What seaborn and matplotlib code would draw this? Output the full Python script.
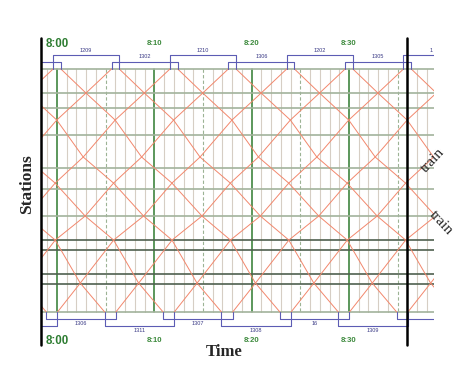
import numpy as np
import pandas as pd
import matplotlib
matplotlib.use("Agg")
import matplotlib.pyplot as plt
import seaborn as sns

# ---------------- data ----------------
# station positions along the line (distance units, 0 = top terminal)
station_pos = [0, 24, 39, 66, 99, 120, 147, 171, 181, 205, 215, 243]
station_dark = [False, False, False, False, False, False, False, True, True, True, True, False]

# running profile: distance points and minutes after departure
profile_dist = [0, 24, 51, 88, 114, 147, 171, 214, 243]
down_run = [0.0, 2.57, 5.57, 8.29, 11.40, 14.49, 17.41, 19.98, 22.50]      # top -> bottom
up_run = [23.55, 20.93, 17.93, 14.65, 11.77, 8.85, 5.78, 2.35, 0.0]       # bottom -> top

# departures (minutes after 8:00)
down_departures = [-23.6, -17.6, -11.6, -5.6, 0.4, 6.4, 12.4, 18.4, 24.4, 30.4, 36.4]
up_departures = [-23.95, -17.95, -11.95, -5.95, 0.05, 6.05, 12.05, 18.05, 24.05, 30.05, 36.05]

# turnaround (vehicle circulation) at the top terminal
top_arr = [-6.4, -0.4, 5.6, 11.6, 17.6, 23.6, 29.6, 35.6]
top_dep_next = [0.4, 6.4, 12.4, 18.4, 24.4, 30.4, 36.4, 42.4]
top_labels = ["", "1209", "1302", "1210", "1306", "1202", "1305", "1"]

# turnaround at the bottom terminal
bot_arr = [-7.1, -1.1, 4.9, 10.9, 16.9, 22.9, 28.9, 34.9]
bot_dep_next = [0.05, 6.05, 12.05, 18.05, 24.05, 30.05, 36.05, 42.05]
bot_labels = ["", "1306", "1311", "1307", "1308", "16", "1309", ""]

time_ticks = [0, 10, 20, 30]
time_labels = ["8:00", "8:10", "8:20", "8:30"]

# ---------------- style ----------------
sns.set_theme(style="white")
plt.rcParams["font.family"] = ["Liberation Sans", "DejaVu Sans"]

RED = "#f2876c"
BLUE = "#5c5cb4"
LIGHT = "#d6cec4"
DASH = "#9cb394"
DKGREEN = "#2f7a2f"
STN = "#a2b39c"
STN_DK = "#4f604f"
TXT_GREEN = "#2e7d32"

PX_MIN = 9.733
t_left = (41 - 57) / PX_MIN
t_right = (434 - 57) / PX_MIN
t_black_r = (407.4 - 57) / PX_MIN

fig = plt.figure(figsize=(4.74, 3.88), dpi=100)
fig.patch.set_facecolor("white")
ax = fig.add_axes([41 / 474, 0, 393 / 474, 1])
ax.set_xlim(t_left, t_right)
ax.set_ylim(319, -69)

# vertical time grid (each minute)
for m in range(-1, 39):
    if m % 10 == 0:
        ax.plot([m, m], [0, 243], color=DKGREEN, lw=1.1, zorder=2)
    elif m % 5 == 0:
        ax.plot([m, m], [0, 243], color=DASH, lw=0.8, ls=(0, (3, 2)), zorder=1)
    else:
        ax.plot([m, m], [0, 243], color=LIGHT, lw=0.8, zorder=1)

# station lines
for s, dk in zip(station_pos, station_dark):
    ax.plot([t_left, t_right], [s, s], color=STN_DK if dk else STN,
            lw=1.2, zorder=2, solid_capstyle="butt")

# train paths
rows = []
for k, dep in enumerate(down_departures):
    for d, r in zip(profile_dist, down_run):
        rows.append({"train": f"D{k}", "time": dep + r, "dist": d})
for k, dep in enumerate(up_departures):
    for d, r in zip(profile_dist, up_run):
        rows.append({"train": f"U{k}", "time": dep + r, "dist": d})
df = pd.DataFrame(rows)
sns.lineplot(data=df, x="time", y="dist", units="train", estimator=None,
             sort=False, color=RED, lw=0.7, ax=ax, legend=False, zorder=3)

# circulation links (blue)
for k, (a, b) in enumerate(zip(top_arr, top_dep_next)):
    lvl = -14 if k % 2 == 1 else -7
    ax.plot([a, a, b, b], [0, lvl, lvl, 0], color=BLUE, lw=0.8, zorder=4)
    if top_labels[k]:
        xm = min((a + b) / 2, t_right - 0.25)
        ax.text(xm, lvl - 2.5, top_labels[k], ha="center", va="bottom",
                fontsize=4, color="#3a3a86")
for k, (a, b) in enumerate(zip(bot_arr, bot_dep_next)):
    lvl = 257 if k % 2 == 0 else 250
    ax.plot([a, a, b, b], [243, lvl, lvl, 243], color=BLUE, lw=0.8, zorder=4)
    if bot_labels[k]:
        ax.text((a + b) / 2, lvl + 2, bot_labels[k], ha="center", va="top",
                fontsize=4, color="#3a3a86")

# black frame verticals
ax.plot([t_left, t_left], [-31, 276], color="black", lw=1.8, clip_on=False, zorder=6)
ax.plot([t_black_r, t_black_r], [-31, 276], color="black", lw=1.8, zorder=6)

# time labels
for t, lab in zip(time_ticks, time_labels):
    big = (t == 0)
    fs = 8.3 if big else 5.6
    ax.text(t, -25.3, lab, ha="center", va="center", fontsize=fs,
            fontweight="bold", color=TXT_GREEN if big else "#3d8a3d")
    ax.text(t, 272 if big else 271, lab, ha="center", va="center", fontsize=fs,
            fontweight="bold", color=TXT_GREEN if big else "#3d8a3d")

ax.axis("off")

# axis titles
serif = ["Liberation Serif", "DejaVu Serif"]
fig.text(27 / 474, 1 - 184 / 388, "Stations", rotation=90, ha="center", va="center",
         fontsize=12.5, fontweight="bold", family=serif)
fig.text(224.5 / 474, 1 - 352 / 388, "Time", ha="center", va="center",
         fontsize=12, fontweight="bold", family=serif)
fig.text(433 / 474, 1 - 160 / 388, "train", rotation=47, ha="center", va="center",
         fontsize=11, family=serif)
fig.text(441 / 474, 1 - 223 / 388, "train", rotation=-47, ha="center", va="center",
         fontsize=11, family=serif)

fig.savefig("out.png", dpi=100, facecolor="white")
